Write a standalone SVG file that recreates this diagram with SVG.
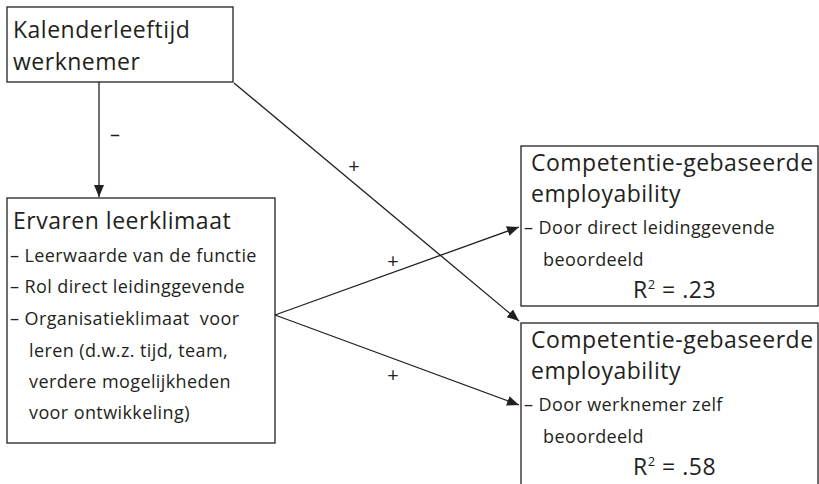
<svg xmlns="http://www.w3.org/2000/svg" width="819" height="484" viewBox="0 0 819 484">
<style>
.box{fill:#fff;stroke:#231f20;stroke-width:1.3}
.t{font-family:"Open Sans","Liberation Sans",sans-serif;fill:#231f20}
.h{font-size:23px;letter-spacing:0.5px}
.s{font-size:18px;letter-spacing:0.4px}
.p{font-size:20px}
.c{stroke:#231f20;stroke-width:1.3;fill:none}
</style>
<defs>
<marker id="ah" viewBox="0 0 12 10" refX="12" refY="5" markerWidth="12" markerHeight="10" markerUnits="userSpaceOnUse" orient="auto">
<path d="M0,0 L12,5 L0,10 Z" fill="#231f20"/>
</marker>
</defs>
<g id="connectors">
<line class="c" x1="99" y1="82" x2="99" y2="197" marker-end="url(#ah)"/>
<line class="c" x1="234" y1="83" x2="519" y2="321" marker-end="url(#ah)"/>
<line class="c" x1="275" y1="315" x2="519" y2="227" marker-end="url(#ah)"/>
<line class="c" x1="275" y1="315" x2="519" y2="405" marker-end="url(#ah)"/>
<text class="t p" x="115" y="141" text-anchor="middle">–</text>
<text class="t p" x="354" y="173" text-anchor="middle">+</text>
<text class="t p" x="393" y="268" text-anchor="middle">+</text>
<text class="t p" x="393" y="382" text-anchor="middle">+</text>
</g>
<g id="n1">
<rect class="box" x="7" y="7" width="226" height="75"/>
<text class="t h" x="13" y="38">Kalenderleeftijd</text>
<text class="t h" x="13" y="70">werknemer</text>
</g>
<g id="n2">
<rect class="box" x="7" y="198" width="268" height="245"/>
<text class="t h" x="13" y="229">Ervaren leerklimaat</text>
<text class="t s" x="10" y="262">– Leerwaarde van de functie</text>
<text class="t s" x="10" y="293">– Rol direct leidinggevende</text>
<text class="t s" x="10" y="325" style="white-space:pre">– Organisatieklimaat  voor</text>
<text class="t s" x="29" y="357">leren (d.w.z. tijd, team,</text>
<text class="t s" x="29" y="388">verdere mogelijkheden</text>
<text class="t s" x="29" y="419">voor ontwikkeling)</text>
</g>
<g id="n3">
<rect class="box" x="521" y="146" width="297" height="160"/>
<text class="t h" x="531" y="171">Competentie-gebaseerde</text>
<text class="t h" x="531" y="202">employability</text>
<text class="t s" x="524" y="234">– Door direct leidinggevende</text>
<text class="t s" x="543" y="266">beoordeeld</text>
<text class="t h" x="633" y="298">R<tspan font-size="13" dy="-9">2</tspan><tspan dy="9"> = .23</tspan></text>
</g>
<g id="n4">
<rect class="box" x="521" y="323" width="297" height="170"/>
<text class="t h" x="531" y="348">Competentie-gebaseerde</text>
<text class="t h" x="531" y="379">employability</text>
<text class="t s" x="524" y="411">– Door werknemer zelf</text>
<text class="t s" x="543" y="443">beoordeeld</text>
<text class="t h" x="633" y="475">R<tspan font-size="13" dy="-9">2</tspan><tspan dy="9"> = .58</tspan></text>
</g>
</svg>
